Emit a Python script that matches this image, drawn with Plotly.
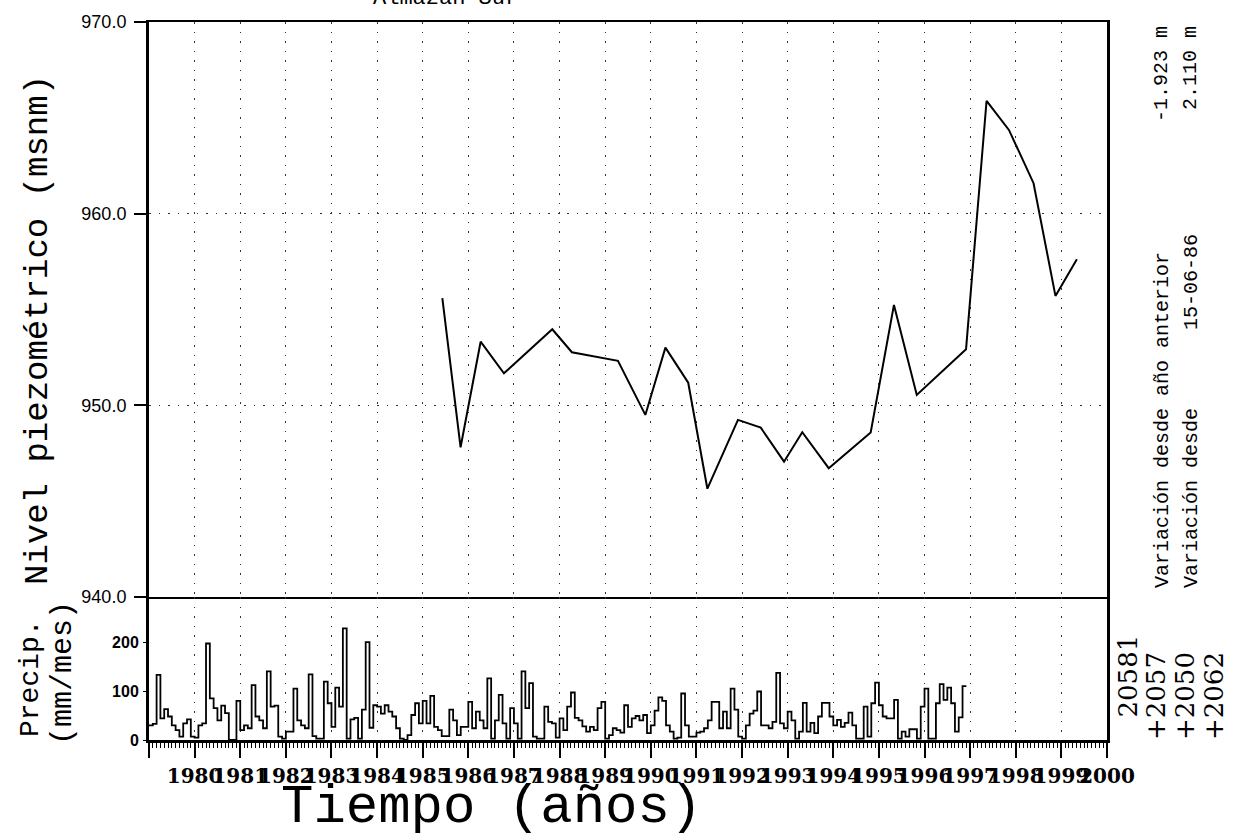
import plotly.graph_objects as go

# ---------------- data ----------------
piezo_date = [1985.43, 1985.83, 1986.27, 1986.78, 1987.84, 1988.27, 1989.28, 1989.88,
              1990.32, 1990.82, 1991.24, 1991.91, 1992.41, 1992.92, 1993.32, 1993.90,
              1994.82, 1995.33, 1995.83, 1996.91, 1997.36, 1997.85, 1998.39, 1998.87,
              1999.34]
piezo_level = [955.59, 947.81, 953.32, 951.67, 953.97, 952.77, 952.32, 949.50,
               953.01, 951.18, 945.65, 949.24, 948.84, 947.06, 948.60, 946.72,
               948.58, 955.24, 950.54, 952.93, 965.89, 964.37, 961.59, 955.71,
               957.62]

# monthly precipitation (mm/mes), one list per year
p1979 = [30, 33, 133, 44, 63, 48, 30, 20, 7, 34, 42, 7]
p1980 = [5, 30, 34, 197, 85, 65, 40, 70, 55, 0, 0, 80]
p1981 = [20, 30, 24, 112, 48, 40, 24, 140, 68, 70, 7, 3]
p1982 = [17, 17, 105, 40, 30, 24, 134, 8, 3, 3, 119, 75]
p1983 = [27, 107, 68, 228, 3, 42, 45, 3, 62, 200, 25, 71]
p1984 = [68, 54, 71, 58, 48, 24, 3, 0, 10, 51, 75, 34]
p1985 = [80, 34, 90, 27, 20, 8, 8, 62, 40, 10, 27, 27]
p1986 = [78, 24, 58, 40, 24, 126, 3, 40, 92, 34, 3, 65]
p1987 = [34, 3, 140, 65, 116, 7, 3, 3, 68, 37, 34, 5]
p1988 = [44, 20, 68, 97, 45, 40, 28, 17, 27, 20, 65, 78]
p1989 = [3, 10, 24, 20, 15, 71, 27, 44, 49, 40, 51, 14]
p1990 = [30, 60, 87, 80, 30, 17, 3, 5, 95, 30, 7, 7]
p1991 = [15, 17, 24, 40, 78, 78, 24, 58, 24, 105, 62, 7]
p1992 = [3, 30, 54, 60, 99, 30, 30, 24, 37, 137, 34, 24]
p1993 = [58, 40, 3, 17, 76, 17, 35, 14, 48, 76, 76, 48]
p1994 = [30, 41, 27, 35, 56, 30, 3, 3, 68, 7, 75, 117]
p1995 = [71, 48, 44, 44, 82, 3, 17, 7, 22, 22, 3, 68]
p1996 = [105, 3, 3, 75, 114, 82, 107, 75, 17, 46, 110]

precip_years = [1979, 1980, 1981, 1982, 1983, 1984, 1985, 1986, 1987,
                1988, 1989, 1990, 1991, 1992, 1993, 1994, 1995, 1996]
precip_lists = [p1979, p1980, p1981, p1982, p1983, p1984, p1985, p1986, p1987,
                p1988, p1989, p1990, p1991, p1992, p1993, p1994, p1995, p1996]

year_ticks = list(range(1979, 2001))
year_labels = [''] + [str(y) for y in range(1980, 2001)]
level_ticks = [940, 950, 960, 970]
level_labels = ['940.0', '950.0', '960.0', '970.0']
precip_ticks = [0, 100, 200]
precip_labels = ['0', '100', '200']

# ---------------- build step series ----------------
px_, py_ = [], []
for yr, vals in zip(precip_years, precip_lists):
    for m, v in enumerate(vals):
        px_.append(yr + m / 12.0)
        py_.append(v)
px_.append(px_[-1] + 1 / 12.0)
py_.append(py_[-1])

W, H = 1233, 840
L, R, T, B = 149, 126, 22, 100
PW, PH = W - L - R, H - T - B


def xp(px):
    return (px - L) / PW


def yp(py):
    return (H - B - py) / PH


split = (740 - 597) / PH

fig = go.Figure()
fig.add_trace(go.Scatter(x=piezo_date, y=piezo_level, mode='lines',
                         line=dict(color='black', width=2),
                         xaxis='x', yaxis='y', showlegend=False))
fig.add_trace(go.Scatter(x=px_, y=py_, mode='lines', line_shape='hv',
                         line=dict(color='black', width=1.8),
                         xaxis='x2', yaxis='y2', showlegend=False))

grid_dash = '1.5px,8px'
mono = 'Liberation Mono'

fig.update_layout(
    width=W, height=H,
    margin=dict(l=L, r=R, t=T, b=B),
    paper_bgcolor='white', plot_bgcolor='white',
    xaxis=dict(anchor='y', domain=[0, 1], range=[1979, 2000],
               tickmode='array', tickvals=year_ticks, showticklabels=False,
               ticks='', showgrid=True, gridcolor='#333', griddash=grid_dash,
               gridwidth=1, zeroline=False, showline=True, mirror=True,
               linecolor='black', linewidth=2),
    yaxis=dict(anchor='x', domain=[split, 1], range=[940, 970],
               tickmode='array', tickvals=level_ticks, ticktext=level_labels,
               ticks='outside', ticklen=12, tickwidth=1.5, tickcolor='black',
               ticklabelstandoff=4,
               tickfont=dict(family='Liberation Sans', size=18, color='black'),
               showgrid=True, gridcolor='#333', griddash=grid_dash, gridwidth=1,
               zeroline=False, showline=True, mirror=True,
               linecolor='black', linewidth=3),
    xaxis2=dict(anchor='y2', domain=[0, 1], range=[1979, 2000],
                tickmode='array', tickvals=year_ticks, ticktext=year_labels,
                tickangle=0, ticks='outside', ticklen=15, tickwidth=2,
                tickcolor='black', ticklabelstandoff=1,
                tickfont=dict(family='DejaVu Serif', size=20, color='black',
                              weight='bold'),
                minor=dict(ticks='outside', ticklen=5, tickwidth=1,
                           tickcolor='black', tickmode='linear',
                           tick0=1979, dtick=1 / 12, showgrid=False),
                showgrid=True, gridcolor='#333', griddash=grid_dash, gridwidth=1,
                zeroline=False, showline=True, mirror=False,
                linecolor='black', linewidth=3),
    yaxis2=dict(anchor='x2', domain=[0, split], range=[0, 292],
                tickmode='array', tickvals=precip_ticks, ticktext=precip_labels,
                ticks='outside', ticklen=3, tickwidth=1, tickcolor='black',
                ticklabelstandoff=1,
                tickfont=dict(family='Liberation Sans', size=16, color='black',
                              weight='bold'),
                showgrid=False, zeroline=False, showline=True, mirror=True,
                linecolor='black', linewidth=3),
)

ann = []
ann.append(dict(text='Almazán Sur', x=xp(445), y=1.0125, xref='paper', yref='paper',
                xanchor='center', yanchor='bottom', showarrow=False,
                font=dict(family=mono, size=22, color='black')))
ann.append(dict(text='Nivel piezométrico (msnm)', x=xp(38), y=yp(330),
                xref='paper', yref='paper', xanchor='center', yanchor='middle',
                textangle=-90, showarrow=False,
                font=dict(family=mono, size=34, color='black')))
ann.append(dict(text='Precip.', x=xp(30), y=yp(678), xref='paper', yref='paper',
                xanchor='center', yanchor='middle', textangle=-90, showarrow=False,
                font=dict(family=mono, size=28, color='black')))
ann.append(dict(text='(mm/mes)', x=xp(63), y=yp(673), xref='paper', yref='paper',
                xanchor='center', yanchor='middle', textangle=-90, showarrow=False,
                font=dict(family=mono, size=30, color='black')))
ann.append(dict(text='Tiempo (años)', x=xp(491), y=yp(808), xref='paper', yref='paper',
                xanchor='center', yanchor='middle', showarrow=False,
                font=dict(family=mono, size=54, color='black')))
# right side annotations
ann.append(dict(text='Variación desde año anterior', x=xp(1162), y=yp(590),
                xref='paper', yref='paper', xanchor='center', yanchor='bottom',
                textangle=-90, showarrow=False,
                font=dict(family=mono, size=20, color='black')))
ann.append(dict(text='-1.923 m', x=xp(1162), y=yp(24),
                xref='paper', yref='paper', xanchor='center', yanchor='top',
                textangle=-90, showarrow=False,
                font=dict(family=mono, size=20, color='black')))
ann.append(dict(text='Variación desde', x=xp(1191), y=yp(590),
                xref='paper', yref='paper', xanchor='center', yanchor='bottom',
                textangle=-90, showarrow=False,
                font=dict(family=mono, size=20, color='black')))
ann.append(dict(text='15-06-86', x=xp(1191), y=yp(232),
                xref='paper', yref='paper', xanchor='center', yanchor='top',
                textangle=-90, showarrow=False,
                font=dict(family=mono, size=20, color='black')))
ann.append(dict(text='2.110 m', x=xp(1191), y=yp(24),
                xref='paper', yref='paper', xanchor='center', yanchor='top',
                textangle=-90, showarrow=False,
                font=dict(family=mono, size=20, color='black')))
for txt, cx, by in [('20581', 1127, 720), ('+2057', 1156, 742),
                    ('+2050', 1185, 742), ('+2062', 1214, 742)]:
    ann.append(dict(text=txt, x=xp(cx), y=yp(by), xref='paper', yref='paper',
                    xanchor='center', yanchor='bottom', textangle=-90,
                    showarrow=False,
                    font=dict(family='DejaVu Serif', size=26, color='black')))
fig.update_layout(annotations=ann)

fig.write_html("out.html", config={'displayModeBar': False},
               post_script="document.body.style.margin='0';document.body.style.overflow='hidden';")
